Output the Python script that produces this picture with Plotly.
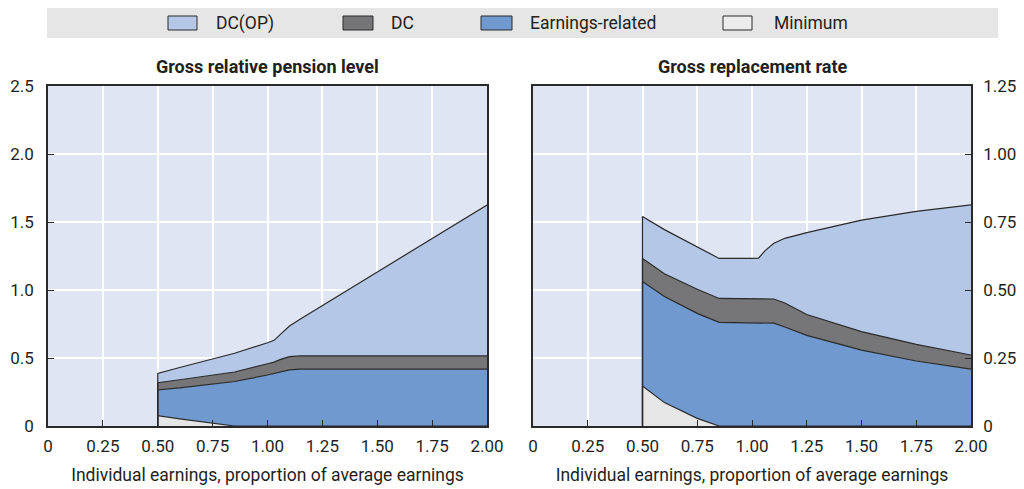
import plotly.graph_objects as go

# ---------------- data ----------------
earnings = [0.5, 0.5, 0.6, 0.75, 0.85, 1.0, 1.03, 1.06, 1.1, 1.15, 1.25, 1.5, 1.75, 2.0]

# Gross relative pension level (cumulative upper boundary of each layer)
level_minimum = [0, 0.076, 0.053, 0.020, 0.0, 0, 0, 0, 0, 0, 0, 0, 0, 0]
level_earnings_related = [0, 0.265, 0.280, 0.307, 0.327, 0.375, 0.387, 0.398, 0.413, 0.418, 0.418, 0.418, 0.418, 0.418]
level_dc = [0, 0.318, 0.340, 0.372, 0.397, 0.458, 0.470, 0.490, 0.510, 0.515, 0.515, 0.515, 0.515, 0.515]
level_dc_op = [0, 0.387, 0.430, 0.490, 0.535, 0.612, 0.630, 0.676, 0.735, 0.787, 0.886, 1.132, 1.379, 1.625]

# Gross replacement rate (cumulative upper boundary of each layer)
rr_minimum = [0, 0.147, 0.086, 0.028, 0.0, 0, 0, 0, 0, 0, 0, 0, 0, 0]
rr_earnings_related = [0, 0.531, 0.476, 0.414, 0.381, 0.380, 0.380, 0.380, 0.378, 0.364, 0.333, 0.279, 0.239, 0.209]
rr_dc = [0, 0.616, 0.560, 0.503, 0.469, 0.468, 0.468, 0.468, 0.467, 0.452, 0.410, 0.347, 0.300, 0.261]
rr_dc_op = [0, 0.770, 0.722, 0.657, 0.616, 0.616, 0.617, 0.645, 0.672, 0.690, 0.711, 0.757, 0.789, 0.813]

series_names = ["Minimum", "Earnings-related", "DC", "DC(OP)"]
legend_order = ["DC(OP)", "DC", "Earnings-related", "Minimum"]

x_ticks = [0, 0.25, 0.5, 0.75, 1.0, 1.25, 1.5, 1.75, 2.0]
x_ticktext = ["0", "0.25", "0.50", "0.75", "1.00", "1.25", "1.50", "1.75", "2.00"]
left_yticks = [0, 0.5, 1.0, 1.5, 2.0, 2.5]
left_yticktext = ["0", "0.5", "1.0", "1.5", "2.0", "2.5"]
right_yticks = [0, 0.25, 0.5, 0.75, 1.0, 1.25]
right_yticktext = ["0", "0.25", "0.50", "0.75", "1.00", "1.25"]

panel_titles = ["Gross relative pension level", "Gross replacement rate"]
x_title = "Individual earnings, proportion of average earnings"

# ---------------- styling ----------------
FONT = "Roboto, Liberation Sans, sans-serif"
TEXT = "#231f20"
fills = {"Minimum": "#e6e6e6", "Earnings-related": "#7099d0", "DC": "#767679", "DC(OP)": "#b4c7e7"}
legend_fills = {"Minimum": "#ececec", "Earnings-related": "#7099d0", "DC": "#767679", "DC(OP)": "#b4c7e7"}
EDGE = "#2a2a2a"
PLOT_BG = "#dfe5f3"

# the page body adds an 8px margin; the figure is sized/offset to compensate
OFF = 8
W, H = 1016, 481
L, T = 48 - OFF, 86 - OFF
R = W - (971 - OFF)
B = H - (426 - OFF)
PW = W - L - R
PH = H - T - B


def px2x(px):
    return (px - OFF - L) / PW


def px2y(py):
    return (H - B - (py - OFF)) / PH


fig = go.Figure()

panels = [
    ("x", "y", [level_minimum, level_earnings_related, level_dc, level_dc_op]),
    ("x2", "y2", [rr_minimum, rr_earnings_related, rr_dc, rr_dc_op]),
]
for xa, ya, layers in panels:
    for i, (name, vals) in enumerate(zip(series_names, layers)):
        fig.add_trace(go.Scatter(
            x=earnings, y=vals, xaxis=xa, yaxis=ya, name=name,
            mode="lines", line=dict(color=EDGE, width=1.2),
            fill="tozeroy" if i == 0 else "tonexty",
            fillcolor=fills[name], showlegend=False, hoverinfo="skip",
        ))

left_dom = [0, px2x(487)]
right_dom = [px2x(533), 1]

TICK_SIZE = 17
axis_common = dict(
    showline=True, linecolor=EDGE, linewidth=1.6, mirror=True,
    showgrid=True, gridcolor="white", gridwidth=1.6,
    ticks="inside", ticklen=6, tickcolor=EDGE, tickwidth=1,
    zeroline=False, tickfont=dict(family=FONT, size=TICK_SIZE, color=TEXT),
    layer="above traces", automargin=False,
)

fig.update_layout(
    width=W, height=H, autosize=False,
    margin=dict(l=L, r=R, t=T, b=B, pad=0),
    paper_bgcolor="white", plot_bgcolor=PLOT_BG,
    font=dict(family=FONT, color=TEXT, size=TICK_SIZE),
    showlegend=False,
    xaxis=dict(domain=left_dom, range=[0, 2], tickvals=x_ticks, ticktext=x_ticktext,
               title=dict(text=x_title, font=dict(family=FONT, size=17.5, color=TEXT), standoff=14),
               ticklabelstandoff=4, anchor="y", **axis_common),
    yaxis=dict(range=[0, 2.5], tickvals=left_yticks, ticktext=left_yticktext,
               ticklabelstandoff=9, anchor="x", **axis_common),
    xaxis2=dict(domain=right_dom, range=[0, 2], tickvals=x_ticks, ticktext=x_ticktext,
                title=dict(text=x_title, font=dict(family=FONT, size=17.5, color=TEXT), standoff=14),
                ticklabelstandoff=4, anchor="y2", **axis_common),
    yaxis2=dict(range=[0, 1.25], tickvals=right_yticks, ticktext=right_yticktext,
                side="right", ticklabelstandoff=7, anchor="x2", **axis_common),
)

# panel titles
for dom, title in zip([left_dom, right_dom], panel_titles):
    fig.add_annotation(x=(dom[0] + dom[1]) / 2, y=px2y(67), xref="paper", yref="paper",
                       text="<b>" + title + "</b>", showarrow=False,
                       font=dict(family=FONT, size=18, color=TEXT),
                       xanchor="center", yanchor="middle")

# legend band (drawn with shapes for the wide rectangular swatches)
fig.add_shape(type="rect", xref="paper", yref="paper",
              x0=px2x(47), x1=px2x(998), y0=px2y(38), y1=px2y(8),
              fillcolor="#e6e6e6", line=dict(width=0), layer="below")

swatch_px = {"DC(OP)": (168, 197, 214), "DC": (343, 373, 389),
             "Earnings-related": (481, 512, 528), "Minimum": (723, 752, 772)}
for name in legend_order:
    x0, x1, tx = swatch_px[name]
    fig.add_shape(type="rect", xref="paper", yref="paper",
                  x0=px2x(x0), x1=px2x(x1), y0=px2y(30), y1=px2y(16),
                  fillcolor=legend_fills[name], line=dict(color=EDGE, width=1))
    fig.add_annotation(x=px2x(tx), y=px2y(23), xref="paper", yref="paper",
                       text=name, showarrow=False, xanchor="left", yanchor="middle",
                       font=dict(family=FONT, size=17.5, color=TEXT))

fig.write_html("out.html")
